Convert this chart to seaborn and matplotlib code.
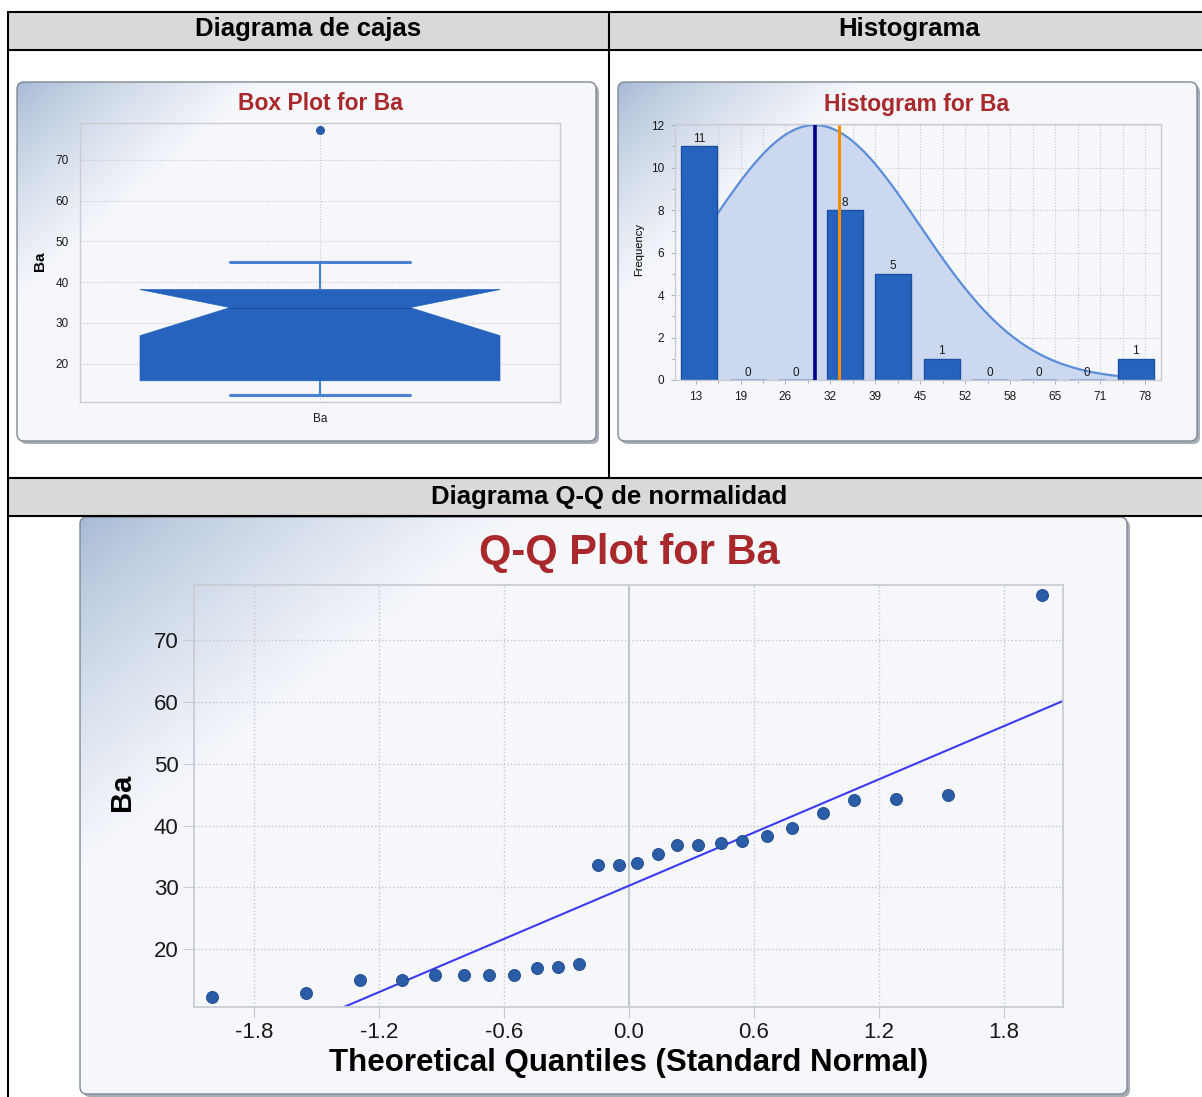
"""Box plot, histogram and Q-Q plot for Ba, laid out as a report table."""
import numpy as np
import pandas as pd
import matplotlib
matplotlib.use("Agg")
import matplotlib.pyplot as plt
from matplotlib.patches import FancyBboxPatch, Rectangle, PathPatch
from matplotlib.path import Path
import seaborn as sns

W, H = 1202, 1097

# values
ba_values = [12.2, 13.0, 15.1, 15.1, 15.8, 15.8, 15.8, 15.8, 16.9, 17.2, 17.6,
             33.6, 33.6, 33.9, 35.4, 36.8, 36.8, 37.2, 37.5, 38.4, 39.6,
             42.0, 44.1, 44.3, 44.9, 77.3]
theoretical_q = [-2.0, -1.55, -1.29, -1.09, -0.93, -0.79, -0.67, -0.55, -0.44,
                 -0.34, -0.24, -0.15, -0.05, 0.04, 0.14, 0.23, 0.33, 0.44, 0.54,
                 0.66, 0.78, 0.93, 1.08, 1.28, 1.53, 1.98]
hist_counts = [11, 0, 0, 8, 5, 1, 0, 0, 0, 1]
hist_tick_labels = ["13", "19", "26", "32", "39", "45", "52", "58", "65", "71", "78"]
hist_yticks = [0, 2, 4, 6, 8, 10, 12]
box_yticks = [20, 30, 40, 50, 60, 70]
qq_yticks = [20, 30, 40, 50, 60, 70]
qq_xticks = [-1.8, -1.2, -0.6, 0.0, 0.6, 1.2, 1.8]
qq_xtick_labels = ["-1.8", "-1.2", "-0.6", "0.0", "0.6", "1.2", "1.8"]

BOX_BLUE = "#2563BE"
WHISK = "#4A80D4"
PT_BLUE = "#2A5CA8"
TITLE_RED = "#A8282B"
GRID = "#C4C8CE"
FRAME = "#C9CDD3"

sns.set_style("white")
plt.rcParams["font.family"] = ["Liberation Sans", "DejaVu Sans"]
plt.rcParams["axes.unicode_minus"] = False
plt.rcParams["text.color"] = "black"

fig = plt.figure(figsize=(W / 100, H / 100), dpi=100)
bg = fig.add_axes([0, 0, 1, 1])
bg.set_autoscale_on(False)
bg.set_xlim(0, W)
bg.set_ylim(H, 0)
bg.axis("off")


def px_axes(l, t, r, b):
    ax = fig.add_axes([l / W, 1 - b / H, (r - l) / W, (b - t) / H])
    ax.set_facecolor("none")
    return ax


def px_text(x, y, s, color="black", **kw):
    fig.text(x / W, 1 - y / H, s, ha="center", va="center", color=color, **kw)


def panel(x0, y0, x1, y1):
    w, h = x1 - x0, y1 - y0
    style = "round,pad=0,rounding_size=7"
    bg.add_patch(FancyBboxPatch((x0 + 3, y0 + 3), w, h, boxstyle=style,
                                fc="#A7ADB5", ec="none", zorder=1))
    base = FancyBboxPatch((x0, y0), w, h, boxstyle=style, fc="#F5F7FB",
                          ec="none", zorder=1.1)
    bg.add_patch(base)
    yy, xx = np.mgrid[0:int(h), 0:int(w)]
    t = np.clip(xx / (0.42 * w) + yy / (0.6 * h), 0, 1) ** 0.75
    c0 = np.array([163, 184, 211]) / 255
    c1 = np.array([245, 247, 251]) / 255
    img = c0[None, None, :] * (1 - t[..., None]) + c1[None, None, :] * t[..., None]
    im = bg.imshow(img, extent=(x0, x1, y1, y0), origin="upper",
                   interpolation="bilinear", aspect="auto", zorder=1.2)
    im.set_clip_path(base)
    bg.add_patch(FancyBboxPatch((x0, y0), w, h, boxstyle=style, fc="none",
                                ec="#7E8894", lw=1.0, zorder=1.3))


# table skeleton
bg.add_patch(Rectangle((8, 12), W - 8, 38, fc="#D9D9D9", ec="none", zorder=0.5))
bg.add_patch(Rectangle((8, 478), W - 8, 38, fc="#D9D9D9", ec="none", zorder=0.5))
for y in (12, 50, 478, 516):
    bg.plot([8, W], [y, y], color="black", lw=1.5, zorder=5)
bg.plot([8, 8], [12, H], color="black", lw=1.5, zorder=5)
bg.plot([609, 609], [12, 478], color="black", lw=1.5, zorder=5)

px_text(308, 29, "Diagrama de cajas", fontsize=18.5, fontweight="bold")
px_text(909, 29, "Histograma", fontsize=18.5, fontweight="bold")
px_text(609, 497, "Diagrama Q-Q de normalidad", fontsize=18.5, fontweight="bold")

panel(17, 82, 596, 441)
panel(618, 82, 1197, 441)
panel(80, 517, 1127, 1094)

# ---------- box plot ----------
ax1 = px_axes(80, 123, 560, 402)
df = pd.DataFrame({"Ba": ba_values})
sns.boxplot(data=df, ax=ax1, notch=True, width=0.75, whis=1.5, color=BOX_BLUE,
            saturation=1,
            boxprops=dict(facecolor=BOX_BLUE, edgecolor=BOX_BLUE, linewidth=0.5),
            whiskerprops=dict(color=WHISK, linewidth=1.5),
            capprops=dict(color=WHISK, linewidth=2.2),
            medianprops=dict(color="#1B4A96", linewidth=0.8),
            flierprops=dict(marker="o", markerfacecolor=PT_BLUE,
                            markeredgecolor=PT_BLUE, markersize=5.5))
q1, q3 = np.percentile(ba_values, [25, 75])
for p in ax1.patches:
    if isinstance(p, PathPatch):
        path = p.get_path()
        v = path.vertices.copy()
        v[:, 1] = np.clip(v[:, 1], q1, q3)
        p.set_path(Path(v, path.codes))
ax1.set_xlim(-0.5, 0.5)
ax1.set_ylim(10.6, 79)
ax1.set_yticks(box_yticks)
ax1.set_axisbelow(True)
ax1.grid(True, ls=":", color=GRID, lw=0.8)
ax1.tick_params(labelsize=8.5, length=0, pad=8, colors="#1A1A1A")
ax1.set_xlabel("")
ax1.set_ylabel("")
for s in ax1.spines.values():
    s.set_color(FRAME)
    s.set_linewidth(1)
px_text(320, 104, "Box Plot for Ba", fontsize=16.5, fontweight="bold", color=TITLE_RED)
px_text(40, 261, "Ba", fontsize=11, fontweight="bold", rotation=90)

# ---------- histogram ----------
ax2 = px_axes(675, 124, 1161, 380)
sns.barplot(x=list(range(len(hist_counts))), y=hist_counts, ax=ax2, width=0.75,
            color=BOX_BLUE, saturation=1, errorbar=None, edgecolor="#1E50A2",
            linewidth=1, zorder=2)
for bar, c in zip(ax2.patches, hist_counts):
    if c == 0:
        bar.set_edgecolor("#7FA3DC")
        bar.set_linewidth(2)
ax2.bar_label(ax2.containers[0], fontsize=8.5, padding=1, color="#1A1A1A")

# the value scale of the source chart is offset from its bars
tick_lo, tick_hi = -0.075, 9.19
val_lo, val_hi = float(hist_tick_labels[0]), float(hist_tick_labels[-1])
mean, sd = np.mean(ba_values), np.std(ba_values, ddof=1)
median = np.median(ba_values)
xs = np.linspace(0.375, len(hist_counts) - 1.375, 300)
vs = np.interp(xs, [tick_lo, tick_hi], [val_lo, val_hi])
ys = max(hist_yticks) * np.exp(-0.5 * ((vs - mean) / sd) ** 2)
ax2.fill_between(xs, 0, ys, color="#CBD8F0", lw=0, zorder=1)
ax2.plot(xs, ys, color="#5B8DD8", lw=1.6, zorder=1.5)
ax2.vlines(np.interp(mean, [val_lo, val_hi], [tick_lo, tick_hi]), 0, 12,
           color="#00008B", lw=2.6, zorder=3)
ax2.vlines(np.interp(median, [val_lo, val_hi], [tick_lo, tick_hi]), 0, 12,
           color="#FF8C00", lw=2.2, zorder=3)

ax2.set_xlim(-0.5, 9.52)
ax2.set_ylim(0, 12.05)
major = np.linspace(tick_lo, tick_hi, len(hist_tick_labels))
ax2.set_xticks(major)
ax2.set_xticklabels(hist_tick_labels)
ax2.set_xticks(np.linspace(tick_lo, tick_hi, 2 * len(hist_tick_labels) - 1), minor=True)
ax2.set_yticks(hist_yticks)
ax2.set_yticks(range(1, 12, 2), minor=True)
ax2.set_axisbelow(True)
ax2.grid(True, which="major", ls=":", color=GRID, lw=0.8)
ax2.grid(True, which="minor", axis="x", ls=":", color=GRID, lw=0.8)
ax2.tick_params(which="both", labelsize=8.5, length=3, width=0.6, pad=5,
                colors="#1A1A1A", direction="out", bottom=True, left=True)
ax2.tick_params(which="both", color="#9AA3AE")
ax2.tick_params(which="minor", length=2)
ax2.set_xlabel("")
ax2.set_ylabel("")
for s in ax2.spines.values():
    s.set_color(FRAME)
    s.set_linewidth(1)
px_text(917, 104, "Histogram for Ba", fontsize=16.5, fontweight="bold", color=TITLE_RED)
px_text(639, 250, "Frequency", fontsize=8, rotation=90)

# ---------- Q-Q plot ----------
ax3 = px_axes(194, 585, 1063, 1007)
slope, intercept = np.polyfit(theoretical_q, ba_values, 1)
ax3.axline((0, intercept), slope=slope, color="#3B3BF2", lw=1.5, zorder=2)
sns.scatterplot(x=theoretical_q, y=ba_values, ax=ax3, s=75, color=PT_BLUE,
                edgecolor="#1D4686", linewidth=0.6, zorder=3)
ax3.axvline(0, color="#C3C8CE", lw=1.5, zorder=1)
ax3.set_xlim(-2.088, 2.083)
ax3.set_ylim(10.66, 78.95)
ax3.set_xticks(qq_xticks)
ax3.set_xticklabels(qq_xtick_labels)
ax3.set_yticks(qq_yticks)
ax3.set_axisbelow(True)
ax3.grid(True, ls=":", color=GRID, lw=1.0)
ax3.tick_params(labelsize=16, length=8, width=0.8, color="#C8CCD2", pad=3,
                labelcolor="#1A1A1A", direction="out", bottom=True, left=True)
ax3.set_xlabel("")
ax3.set_ylabel("")
for s in ax3.spines.values():
    s.set_color(FRAME)
    s.set_linewidth(1.3)
px_text(629, 553, "Q-Q Plot for Ba", fontsize=30, fontweight="bold", color=TITLE_RED)
px_text(629, 1063, "Theoretical Quantiles (Standard Normal)", fontsize=22.5,
        fontweight="bold")
px_text(122, 792, "Ba", fontsize=21, fontweight="bold", rotation=90)

fig.savefig("out.png", dpi=100)
plt.close(fig)
